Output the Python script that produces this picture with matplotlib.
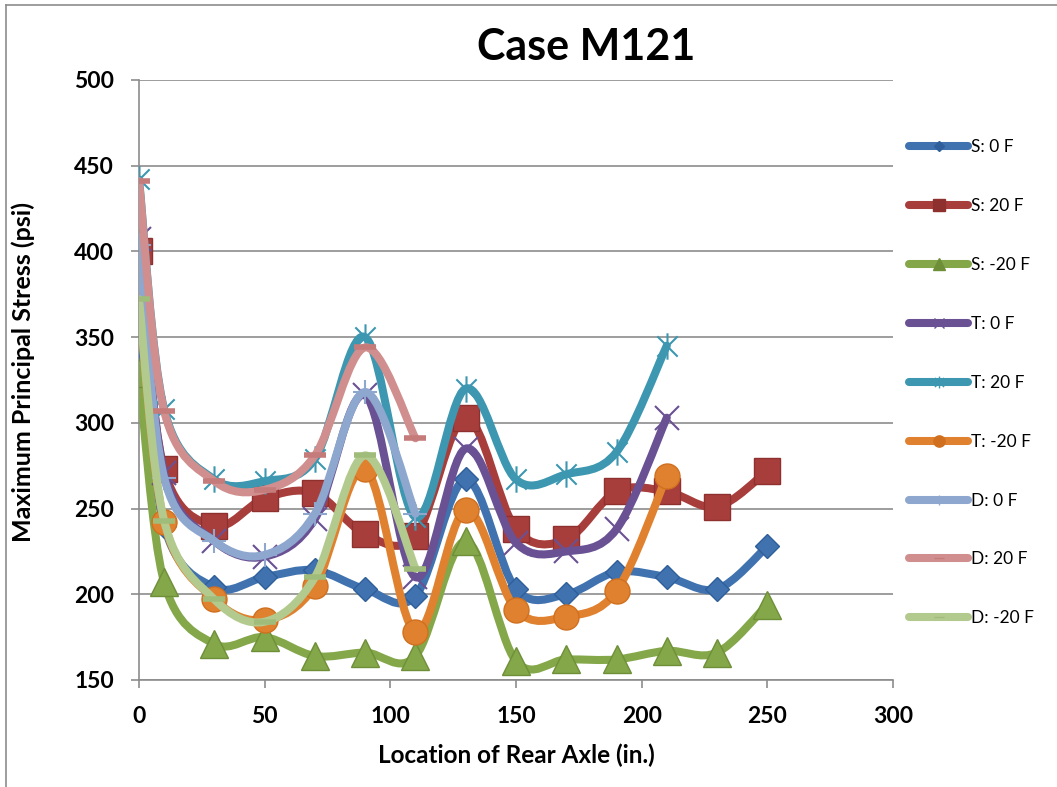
import numpy as np
import matplotlib
matplotlib.use("Agg")
import matplotlib.pyplot as plt
from matplotlib.path import Path
from matplotlib.patches import PathPatch
from matplotlib.lines import Line2D

plt.rcParams['font.family'] = ['Lato', 'DejaVu Sans']

# rear axle locations (in.)
x_full = [0, 10, 30, 50, 70, 90, 110, 130, 150, 170, 190, 210, 230, 250]
x_t = x_full[:12]
x_d = x_full[:7]

# maximum principal stress (psi)
s_0 = [364, 240, 204, 210, 214, 203, 199, 267, 203, 200, 213, 210, 203, 228]
s_20 = [400, 273, 240, 256, 259, 235, 234, 303, 238, 232, 260, 260, 251, 272]
s_m20 = [329, 207, 171, 175, 164, 166, 164, 231, 161, 162, 162, 167, 166, 194]
t_0 = [407, 271, 231, 222, 244, 316, 210, 285, 230, 225, 238, 303]
t_20 = [442, 308, 267, 266, 279, 350, 245, 320, 267, 270, 283, 345]
t_m20 = [372, 242, 197, 185, 205, 273, 178, 249, 191, 187, 202, 269]
d_0 = [404, 268, 231, 223, 247, 318, 247]
d_20 = [441, 307, 266, 261, 281, 344, 291]
d_m20 = [372, 243, 197, 184, 210, 281, 215]

labels = ['S: 0 F', 'S: 20 F', 'S: -20 F', 'T: 0 F', 'T: 20 F', 'T: -20 F',
          'D: 0 F', 'D: 20 F', 'D: -20 F']

# star marker like Excel: x plus a vertical bar
star = Path([(-1, -1), (1, 1), (-1, 1), (1, -1), (0, -1.3), (0, 1.3)],
            [Path.MOVETO, Path.LINETO, Path.MOVETO, Path.LINETO, Path.MOVETO, Path.LINETO])

series = [
    (x_full, s_0, '#3F72AF', 'D', 12, '#2F5F9A', 1.0),
    (x_full, s_20, '#A83E3C', 's', 19, '#8E302E', 1.0),
    (x_full, s_m20, '#84A74A', '^', 20, '#6E8F38', 1.0),
    (x_t, t_0, '#6A5193', 'x', 17, '#6A5193', 1.5),
    (x_t, t_20, '#3D97B0', star, 19, '#3D97B0', 1.5),
    (x_t, t_m20, '#E0812F', 'o', 18, '#D0701F', 1.0),
    (x_d, d_0, '#8EA7CE', '+', 17, '#8EA7CE', 1.5),
    (x_d, d_20, '#D08F8E', '_', 16, '#C47B7A', 4),
    (x_d, d_m20, '#B3CA8F', '_', 16, '#A0BC7A', 4),
]


def smooth_path(xs, ys):
    # bezier segments like Excel's smoothed line
    p = np.column_stack([xs, ys]).astype(float)
    n = len(p)
    verts = [p[0]]
    codes = [Path.MOVETO]
    for i in range(n - 1):
        a = p[i - 1] if i > 0 else p[i]
        b = p[i + 2] if i + 2 < n else p[i + 1]
        c1 = p[i] + (p[i + 1] - a) / 6
        c2 = p[i + 1] - (b - p[i]) / 6
        verts += [c1, c2, p[i + 1]]
        codes += [Path.CURVE4] * 3
    return Path(verts, codes)


fig = plt.figure(figsize=(10.57, 7.87), dpi=100)
ax = fig.add_axes([139 / 1057, 1 - 680 / 787, (893 - 139) / 1057, 600 / 787])

handles = []
for k, (xs, ys, col, mk, ms, mec, mew) in enumerate(series):
    z = 3 + k
    patch = PathPatch(smooth_path(xs, ys), facecolor='none', edgecolor=col,
                      lw=5.8, capstyle='round', joinstyle='round', zorder=z)
    ax.add_patch(patch)
    ax.plot(xs, ys, linestyle='none', marker=mk, markersize=ms,
            markerfacecolor=mec if mk in ('_', '+', 'x') else col,
            markeredgecolor=mec, markeredgewidth=mew, zorder=z + 0.5)
    handles.append(Line2D([], [], color=col, lw=5.8, solid_capstyle='round',
                          marker=mk, markersize=ms * 0.45, markerfacecolor=mec,
                          markeredgecolor=mec, markeredgewidth=min(mew, 1.0)))

ax.set_xlim(0, 300)
ax.set_ylim(150, 500)
ax.set_xticks([0, 50, 100, 150, 200, 250, 300])
ax.set_yticks([150, 200, 250, 300, 350, 400, 450, 500])
ax.yaxis.grid(True, color='#8C8C8C', lw=1.2)
ax.set_axisbelow(True)
for s in ['top', 'right']:
    ax.spines[s].set_visible(False)
for s in ['left', 'bottom']:
    ax.spines[s].set_color('#8C8C8C')
    ax.spines[s].set_linewidth(1.2)
ax.tick_params(axis='both', direction='out', length=6, width=1.2, color='#8C8C8C',
               labelsize=16.5)
ax.tick_params(axis='x', pad=13)
ax.tick_params(axis='y', pad=12)
for t in ax.get_xticklabels() + ax.get_yticklabels():
    t.set_fontweight('bold')

ax.set_xlabel('Location of Rear Axle (in.)', fontsize=17.5, fontweight='bold')
ax.set_ylabel('Maximum Principal Stress (psi)', fontsize=18, fontweight='bold')
ax.xaxis.set_label_coords((516 - 139) / 754, (680 - 755) / 600)
ax.yaxis.set_label_coords((23 - 139) / 754, (680 - 372) / 600)
ax.xaxis.label.set_va('center')
ax.yaxis.label.set_va('center')
fig.text(586 / 1057, 1 - 47 / 787, 'Case M121', fontsize=31, fontweight='bold',
         ha='center', va='center')

fig.legend(handles, labels, loc='upper left', bbox_to_anchor=(0.852, 0.834),
           frameon=False, fontsize=12.5, handlelength=3.4, handletextpad=0.15,
           labelspacing=2.47, borderpad=0)

# outer chart frame (left and top edges visible)
fig.add_artist(Line2D([6 / 1057, 6 / 1057], [0, 1 - 5 / 787], color='#8C8C8C', lw=1.2))
fig.add_artist(Line2D([6 / 1057, 1], [1 - 5 / 787, 1 - 5 / 787], color='#8C8C8C', lw=1.2))

fig.savefig('out.png', dpi=100)
